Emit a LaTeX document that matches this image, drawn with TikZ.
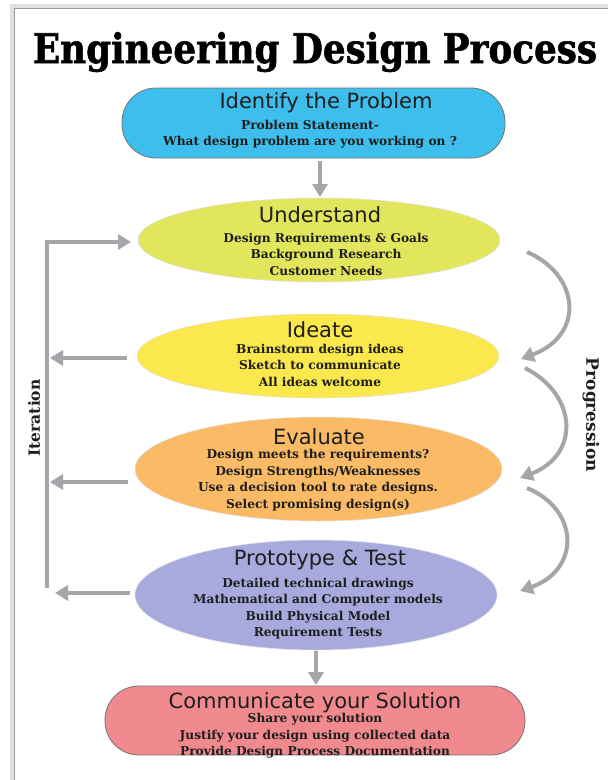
\documentclass[tikz,border=0pt]{standalone}
\usepackage{fontspec}
\usepackage{graphicx}
\usetikzlibrary{shapes.geometric,arrows.meta}
\setmainfont{DejaVu Serif}
\newfontfamily\titlefont[FakeBold=1.5]{DejaVu Serif Bold}
\newfontfamily\headfont{DejaVu Sans}
\newfontfamily\bodyfont{DejaVu Serif}
\definecolor{cblue}{RGB}{62,190,236}
\definecolor{cund}{RGB}{226,230,92}
\definecolor{cide}{RGB}{250,232,76}
\definecolor{ceva}{RGB}{250,186,102}
\definecolor{cpro}{RGB}{168,170,222}
\definecolor{ccom}{RGB}{240,138,142}
\definecolor{carr}{RGB}{165,165,170}
\definecolor{ctxt}{RGB}{30,30,30}
\begin{document}
\begin{tikzpicture}[x=1pt,y=-1pt,
  pill/.style={rectangle, rounded corners=34pt, draw=black!55, line width=0.8pt, inner sep=0pt},
  oval/.style={ellipse, draw=black!12, line width=0.5pt, inner sep=0pt},
  headtxt/.style={font=\headfont\fontsize{21}{24}\selectfont, text=ctxt, inner sep=0pt},
  bodytxt/.style={font=\bodyfont\bfseries\fontsize{12.2}{16.5}\selectfont, text=ctxt, align=center, inner sep=0pt},
  flow/.style={draw=carr, line width=4pt, -{Triangle[width=15pt,length=13pt]}},
  flowline/.style={draw=carr, line width=4pt},
  sidetxt/.style={font=\bodyfont\bfseries, text=ctxt, inner sep=0pt}
]
\useasboundingbox (0,0) rectangle (608,780);
\fill[white] (0,0) rectangle (608,780);
% frame
\draw[black!12, line width=4pt] (12,780) -- (12,6) -- (608,6);
\draw[black!40, line width=1.2pt] (14.5,780) -- (14.5,8.5) -- (608,8.5);

% title
\node[inner sep=0pt, anchor=base] (title) at (315,63) {\resizebox{564pt}{31pt}{\titlefont Engineering Design Process}};

% shapes
\node[pill, fill=cblue, minimum width=383pt, minimum height=70pt] (idf) at (313.5,123) {};
\node[oval, fill=cund, minimum width=362pt, minimum height=84pt] (und) at (319,240) {};
\node[oval, fill=cide, minimum width=362pt, minimum height=84pt] (ide) at (318,356) {};
\node[oval, fill=ceva, minimum width=367pt, minimum height=104pt] (eva) at (318.5,469) {};
\node[oval, fill=cpro, minimum width=362pt, minimum height=110pt] (pro) at (316,595) {};
\node[pill, fill=ccom, minimum width=420pt, minimum height=69pt] (com) at (315,720.5) {};

% texts
\node[headtxt] (idfh) at (326,103) {Identify the Problem};
\node[bodytxt] (idfb) at (310,134) {Problem Statement-\\What design problem are you working on ?};
\node[headtxt] (undh) at (320,215) {Understand};
\node[bodytxt] (undb) at (326,254) {Design Requirements \& Goals\\Background Research\\Customer Needs};
\node[headtxt] (ideh) at (320,330) {Ideate};
\node[bodytxt] (ideb) at (320,365) {Brainstorm design ideas\\Sketch to communicate\\All ideas welcome};
\node[headtxt] (evah) at (319,437) {Evaluate};
\node[bodytxt] (evab) at (318,480) {Design meets the requirements?\\Design Strengths/Weaknesses\\Use a decision tool to rate designs.\\Select promising design(s)};
\node[headtxt] (proh) at (320,560) {Prototype \& Test};
\node[bodytxt] (prob) at (318,608.5) {Detailed technical drawings\\Mathematical and Computer models\\Build Physical Model\\Requirement Tests};
\node[headtxt] (comh) at (315,703) {Communicate your Solution};
\node[bodytxt] (comb) at (315,736) {Share your solution\\Justify your design using collected data\\Provide Design Process Documentation};

% main flow
\coordinate (a1) at (320,161);
\coordinate (a2) at (320,197);
\draw[flow] (a1) -- (a2);
\coordinate (b1) at (316,651);
\coordinate (b2) at (316,685);
\draw[flow] (b1) -- (b2);

% iteration
\coordinate (itop) at (47,242);
\coordinate (ibot) at (47,588);
\coordinate (iend) at (131,242);
\draw[flowline] (ibot) -- (itop);
\draw[flow] ([xshift=-2pt]itop) -- (iend);
\coordinate (i1) at (127,358);
\coordinate (i2) at (128,482);
\coordinate (i3) at (130,593);
\draw[flow] (i1) -- (i1 -| 50,0);
\draw[flow] (i2) -- (i2 -| 50,0);
\draw[flow] (i3) -- (i3 -| 55,0);
\node[sidetxt, font=\bodyfont\bfseries\fontsize{15.5}{18}\selectfont, rotate=90] (iterl) at (34,418) {Iteration};

% progression
\coordinate (p1) at (527,252);
\coordinate (p2) at (521,359);
\coordinate (p3) at (525,368);
\coordinate (p4) at (520,478);
\coordinate (p5) at (527,488);
\coordinate (p6) at (520,591);
\draw[flow] (p1) .. controls (580,275) and (585,335) .. (p2);
\draw[flow] (p3) .. controls (578,395) and (580,455) .. (p4);
\draw[flow] (p5) .. controls (580,510) and (580,570) .. (p6);
\node[sidetxt, font=\bodyfont\bfseries\fontsize{17}{20}\selectfont, rotate=-90] (progl) at (591,415) {Progression};
\end{tikzpicture}
\end{document}
